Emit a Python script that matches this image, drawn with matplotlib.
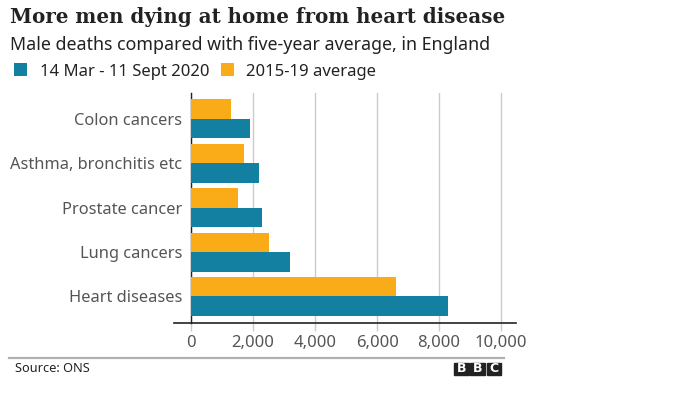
import matplotlib.pyplot as plt
from matplotlib.patches import Rectangle
from matplotlib.lines import Line2D
import numpy as np

categories = ["Colon cancers", "Asthma, bronchitis etc", "Prostate cancer",
              "Lung cancers", "Heart diseases"]
deaths_2020 = [1900, 2200, 2300, 3200, 8300]
average_2015_19 = [1300, 1700, 1500, 2500, 6600]
series_labels = ["14 Mar - 11 Sept 2020", "2015-19 average"]
x_ticks = [0, 2000, 4000, 6000, 8000, 10000]

TEAL = "#1380a1"
ORANGE = "#faab18"
SANS = ["Noto Sans", "DejaVu Sans"]

W, H = 680, 396
fig = plt.figure(figsize=(W / 100, H / 100), dpi=100)


def fx(px):
    return px / W


def fy(py):
    return 1 - py / H


ax = fig.add_axes([fx(191), fy(322.7), fx(516) - fx(191), fy(93) - fy(322.7)])

y = np.arange(len(categories))
h = 0.44
bars_avg = ax.barh(y - h / 2, average_2015_19, height=h, color=ORANGE, zorder=3)
bars_new = ax.barh(y + h / 2, deaths_2020, height=h, color=TEAL, zorder=3)

ax.set_ylim(4.59, -0.58)
ax.set_xlim(0, 10480)
ax.set_yticks(y)
ax.set_yticklabels(categories, family=SANS, fontsize=11.8, color="#555555")
ax.set_xticks(x_ticks)
ax.set_xticklabels([f"{v:,}" for v in x_ticks], family=SANS, fontsize=12,
                   color="#555555")
ax.tick_params(axis="y", length=0, pad=6.5)
ax.tick_params(axis="x", length=6, width=1, color="#cbcbcb", pad=3)
ax.xaxis.get_major_ticks()[0].tick1line.set_color("#222222")
ax.grid(axis="x", color="#cbcbcb", linewidth=1, zorder=0)
for side in ["top", "right", "bottom"]:
    ax.spines[side].set_visible(False)
ax.spines["left"].set_color("#222222")
ax.spines["left"].set_linewidth(1)
ax.plot([-17 / 325, 1], [0, 0], transform=ax.transAxes, clip_on=False,
        color="#222222", linewidth=1.2, zorder=5)

# header
fig.text(fx(10), fy(23), "More men dying at home from heart disease",
         family=["DejaVu Serif"], fontweight="bold", fontsize=14.3,
         color="#222222", va="baseline")
fig.text(fx(10), fy(49.5), "Male deaths compared with five-year average, in England",
         family=SANS, fontsize=12.8, color="#222222", va="baseline")

fig.legend([bars_new, bars_avg], series_labels, loc="center left",
           bbox_to_anchor=(fx(-1), fy(71.5)), ncol=2, frameon=False,
           prop={"family": SANS, "size": 12}, handlelength=0.8,
           handleheight=0.8, handletextpad=0.76, columnspacing=0.66,
           labelcolor="#222222")

# footer
fig.add_artist(Line2D([fx(9), fx(504)], [fy(358), fy(358)], color="#b0b0b0",
                      linewidth=1.6))
fig.text(fx(15), fy(368.5), "Source: ONS", family=SANS, fontsize=9.2,
         color="#222222", va="center")
for i, letter in enumerate("BBC"):
    x0 = 454 + i * 16.3
    fig.add_artist(Rectangle((fx(x0), fy(374.5)), fx(14.5), fy(362.5) - fy(374.5),
                             color="#222222", transform=fig.transFigure))
    fig.text(fx(x0 + 7.2), fy(368.7), letter, family=["DejaVu Sans"],
             fontweight="bold", fontsize=9, color="white", ha="center",
             va="center")

fig.savefig("out.png", dpi=100, facecolor="white")
